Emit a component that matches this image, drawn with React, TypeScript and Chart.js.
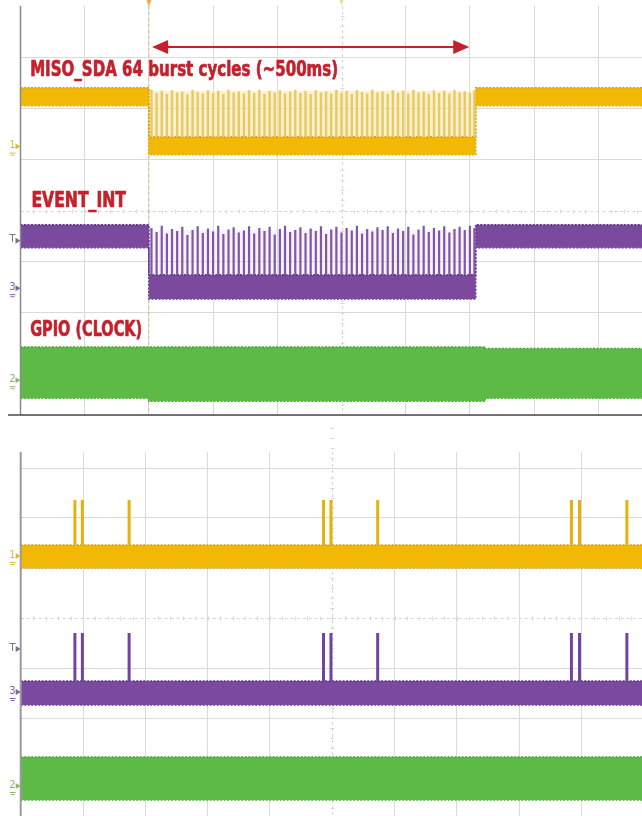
import React, { useEffect, useRef } from "react";
import { Chart, registerables } from "chart.js";

Chart.register(...registerables);

// Graticule: 10 horizontal divisions, vertical divisions counted up from the bottom line.
const GRID_X = [0, 1, 2, 3, 4, 5, 6, 7, 8, 9, 10];
const GRID_Y = [0, 1, 2, 3, 4, 5, 6, 7];

// ---- Upper screen: one 64-cycle MISO burst (~500 ms) ----
const burstStart = 2.0;
const burstEnd = 7.09;
const arrowSpan = [2.05, 6.99];
const arrowLevel = 7.2;

const misoEnvX = [0, 2.0, 2.0, 7.09, 7.09, 10];
const misoEnvHi = [6.4, 6.4, 5.44, 5.44, 6.4, 6.4];
const misoEnvLo = [6.05, 6.05, 5.09, 5.09, 6.05, 6.05];

const eventEnvX = [0, 2.0, 2.0, 7.09, 7.09, 10];
const eventEnvHi = [3.72, 3.72, 2.74, 2.74, 3.72, 3.72];
const eventEnvLo = [3.27, 3.27, 2.27, 2.27, 3.27, 3.27];

const gpioEnvX = [0, 2.0, 2.0, 7.24, 7.24, 10];
const gpioEnvHi = [1.33, 1.33, 1.33, 1.33, 1.3, 1.3];
const gpioEnvLo = [0.33, 0.33, 0.27, 0.27, 0.33, 0.33];

// Persistence glow between the burst cycles
const misoGlowTop = 6.34;
const eventGlowTop = 3.62;

// The 64 burst cycles
const burstCycleX = [
  2.04, 2.12, 2.2, 2.28, 2.36, 2.44, 2.52, 2.6,
  2.68, 2.76, 2.84, 2.92, 3.0, 3.08, 3.16, 3.24,
  3.32, 3.4, 3.48, 3.56, 3.64, 3.72, 3.8, 3.88,
  3.96, 4.04, 4.12, 4.2, 4.28, 4.36, 4.44, 4.52,
  4.6, 4.68, 4.76, 4.84, 4.92, 5.0, 5.08, 5.16,
  5.24, 5.32, 5.4, 5.48, 5.56, 5.64, 5.72, 5.8,
  5.88, 5.96, 6.04, 6.12, 6.2, 6.28, 6.36, 6.44,
  6.52, 6.6, 6.68, 6.76, 6.84, 6.92, 7.0, 7.07,
];
const misoCycleTop = [
  6.36, 6.3, 6.34, 6.28, 6.35, 6.31, 6.33, 6.27,
  6.36, 6.32, 6.29, 6.35, 6.3, 6.34, 6.28, 6.36,
  6.31, 6.33, 6.29, 6.35, 6.3, 6.36, 6.28, 6.34,
  6.31, 6.35, 6.29, 6.33, 6.36, 6.3, 6.34, 6.28,
  6.35, 6.31, 6.33, 6.29, 6.36, 6.3, 6.34, 6.28,
  6.35, 6.32, 6.29, 6.36, 6.31, 6.33, 6.28, 6.35,
  6.3, 6.34, 6.29, 6.36, 6.31, 6.33, 6.28, 6.35,
  6.3, 6.34, 6.29, 6.36, 6.31, 6.33, 6.3, 6.35,
];
const eventCycleTop = [
  3.66, 3.58, 3.7, 3.55, 3.64, 3.6, 3.68, 3.52,
  3.62, 3.69, 3.56, 3.65, 3.59, 3.7, 3.54, 3.63,
  3.67, 3.57, 3.61, 3.69, 3.55, 3.66, 3.6, 3.68,
  3.53, 3.64, 3.7, 3.58, 3.62, 3.67, 3.56, 3.65,
  3.6, 3.69, 3.54, 3.63, 3.68, 3.57, 3.66, 3.61,
  3.7, 3.55, 3.64, 3.59, 3.67, 3.62, 3.69, 3.56,
  3.65, 3.6, 3.68, 3.53, 3.63, 3.7, 3.58, 3.66,
  3.61, 3.69, 3.57, 3.64, 3.68, 3.62, 3.7, 3.66,
];

// ---- Lower screen: idle traffic with short pulse groups ----
const idlePulseX = [0.87, 0.99, 1.74, 4.86, 4.98, 5.73, 8.84, 8.97, 9.73];
const idleMisoTop = 6.36;
const idleEventTop = 3.7;

const idleEnvX = [0, 10];
const idleMisoHi = [5.46, 5.46];
const idleMisoLo = [5.0, 5.0];
const idleEventHi = [2.74, 2.74];
const idleEventLo = [2.26, 2.26];
const idleGpioHi = [1.22, 1.22];
const idleGpioLo = [0.36, 0.36];

// Channel reference markers (level in divisions)
const upperMarkers = [
  { text: "1", level: 5.25, color: "#d9bd3a" },
  { text: "T", level: 3.41, color: "#7d7088" },
  { text: "3", level: 2.48, color: "#8461a6" },
  { text: "2", level: 0.68, color: "#8fb86a" },
];
const lowerMarkers = [
  { text: "1", level: 5.24, color: "#d9bd3a" },
  { text: "T", level: 3.38, color: "#7d7088" },
  { text: "3", level: 2.52, color: "#8461a6" },
  { text: "2", level: 0.64, color: "#8fb86a" },
];

const upperLabels = [
  { text: "MISO_SDA 64 burst cycles (~500ms)", x: 0.15, y: 6.63, width: 308 },
  { text: "EVENT_INT", x: 0.17, y: 4.06, width: 94.5 },
  { text: "GPIO (CLOCK)", x: 0.15, y: 1.54, width: 112 },
];

const YELLOW = "#f2b806";
const YELLOW_EDGE = "#d9a000";
const PURPLE = "#7b4a9f";
const PURPLE_EDGE = "#61358a";
const GREEN = "#5dba47";
const GREEN_EDGE = "#49a336";
const LABEL_RED = "#c5202b";
const GRID = "#dadada";

type Pt = { x: number; y: number | null };

function band(xs: number[], hi: number[], lo: number[], fill: string, edge: string) {
  return [
    {
      data: xs.map((x, i) => ({ x, y: hi[i] })),
      borderColor: edge,
      borderWidth: 1.6,
      borderDash: [2, 1.5],
      backgroundColor: fill,
      fill: "+1",
      pointRadius: 0,
      order: 3,
    },
    {
      data: xs.map((x, i) => ({ x, y: lo[i] })),
      borderColor: edge,
      borderWidth: 1.6,
      borderDash: [2, 1.5],
      fill: false,
      pointRadius: 0,
      order: 3,
    },
  ];
}

function glow(x0: number, x1: number, top: number, base: number, color: string) {
  return [
    {
      data: [
        { x: x0, y: top },
        { x: x1, y: top },
      ],
      borderWidth: 0,
      backgroundColor: color,
      fill: "+1",
      pointRadius: 0,
      order: 4,
    },
    {
      data: [
        { x: x0, y: base },
        { x: x1, y: base },
      ],
      borderWidth: 0,
      fill: false,
      pointRadius: 0,
      order: 4,
    },
  ];
}

function pulses(xs: number[], base: number, tops: number[] | number, color: string, width: number) {
  const data: Pt[] = [];
  xs.forEach((x, i) => {
    const top = Array.isArray(tops) ? tops[i] : tops;
    data.push({ x, y: base }, { x, y: top }, { x, y: null });
  });
  return {
    data,
    borderColor: color,
    borderWidth: width,
    fill: false,
    pointRadius: 0,
    spanGaps: false,
    borderCapStyle: "butt",
    order: 1,
  };
}

type Overlay = {
  labels?: typeof upperLabels;
  markers: typeof upperMarkers;
  arrow?: boolean;
  trigger?: boolean;
  bottomRule?: boolean;
  leftRuleWidth: number;
  leftRuleColor: string;
};

function makeOverlay(cfg: Overlay) {
  return {
    id: "scopeOverlay",
    beforeDatasetsDraw(chart: any) {
      const { ctx, chartArea } = chart;
      const xs = chart.scales.x;
      const ys = chart.scales.y;
      ctx.save();
      // dashed centre lines with minor ticks
      ctx.strokeStyle = "#d4d4d4";
      ctx.lineWidth = 1;
      ctx.setLineDash([3, 3]);
      const cx = Math.round(xs.getPixelForValue(5)) + 0.5;
      const cy = Math.round(ys.getPixelForValue(4)) + 0.5;
      ctx.beginPath();
      ctx.moveTo(cx, chartArea.top);
      ctx.lineTo(cx, chartArea.bottom);
      ctx.moveTo(chartArea.left, cy);
      ctx.lineTo(chartArea.right, cy);
      ctx.stroke();
      ctx.setLineDash([]);
      ctx.strokeStyle = "#dadada";
      ctx.beginPath();
      for (let v = 0.2; v < 10; v += 0.2) {
        const px = Math.round(xs.getPixelForValue(v)) + 0.5;
        ctx.moveTo(px, cy - 2);
        ctx.lineTo(px, cy + 2);
      }
      for (let v = 0.2; v < 8; v += 0.2) {
        const py = Math.round(ys.getPixelForValue(v)) + 0.5;
        ctx.moveTo(cx - 2, py);
        ctx.lineTo(cx + 2, py);
      }
      ctx.stroke();

      if (cfg.trigger) {
        const tx = xs.getPixelForValue(burstStart);
        ctx.strokeStyle = "rgba(226,160,80,0.55)";
        ctx.setLineDash([3, 3]);
        ctx.lineWidth = 1.2;
        ctx.beginPath();
        ctx.moveTo(tx, 0);
        ctx.lineTo(tx, chartArea.bottom);
        ctx.stroke();
        ctx.setLineDash([]);
      }
      ctx.restore();
    },
    afterDraw(chart: any) {
      const { ctx, chartArea } = chart;
      const xs = chart.scales.x;
      const ys = chart.scales.y;
      ctx.save();

      // frame rules
      ctx.strokeStyle = cfg.leftRuleColor;
      ctx.lineWidth = cfg.leftRuleWidth;
      ctx.beginPath();
      ctx.moveTo(chartArea.left, chartArea.top);
      ctx.lineTo(chartArea.left, chartArea.bottom);
      ctx.stroke();
      if (cfg.bottomRule) {
        ctx.strokeStyle = "#4a4a4a";
        ctx.lineWidth = 1.5;
        ctx.beginPath();
        ctx.moveTo(8, chartArea.bottom);
        ctx.lineTo(chart.width, chartArea.bottom);
        ctx.stroke();
      }

      if (cfg.trigger) {
        const tx = xs.getPixelForValue(burstStart);
        ctx.fillStyle = "rgba(232,150,40,0.75)";
        ctx.beginPath();
        ctx.moveTo(tx - 2.5, 0);
        ctx.lineTo(tx + 2.5, 0);
        ctx.lineTo(tx, 7);
        ctx.closePath();
        ctx.fill();
        const mx = xs.getPixelForValue(5);
        ctx.fillStyle = "rgba(225,205,90,0.7)";
        ctx.beginPath();
        ctx.moveTo(mx - 2, 0);
        ctx.lineTo(mx + 2, 0);
        ctx.lineTo(mx, 5);
        ctx.closePath();
        ctx.fill();
      }

      // channel markers at the left edge
      ctx.font = '10px "DejaVu Sans", sans-serif';
      ctx.textBaseline = "middle";
      ctx.textAlign = "right";
      cfg.markers.forEach((m) => {
        const py = ys.getPixelForValue(m.level);
        const lx = chartArea.left;
        ctx.fillStyle = m.color;
        ctx.fillText(m.text, lx - 5, py - 1);
        ctx.beginPath();
        ctx.moveTo(lx - 5, py - 3);
        ctx.lineTo(lx, py);
        ctx.lineTo(lx - 5, py + 3);
        ctx.closePath();
        ctx.fill();
        if (m.text !== "T") {
          ctx.strokeStyle = m.color;
          ctx.lineWidth = 1;
          ctx.beginPath();
          ctx.moveTo(lx - 11, py + 6.5);
          ctx.lineTo(lx - 5, py + 6.5);
          ctx.moveTo(lx - 10, py + 8.5);
          ctx.lineTo(lx - 6, py + 8.5);
          ctx.stroke();
        }
      });

      // span arrow over the burst
      if (cfg.arrow) {
        const x0 = xs.getPixelForValue(arrowSpan[0]);
        const x1 = xs.getPixelForValue(arrowSpan[1]);
        const ay = ys.getPixelForValue(arrowLevel);
        ctx.strokeStyle = LABEL_RED;
        ctx.fillStyle = LABEL_RED;
        ctx.lineWidth = 2;
        ctx.beginPath();
        ctx.moveTo(x0 + 12, ay);
        ctx.lineTo(x1 - 12, ay);
        ctx.stroke();
        ctx.beginPath();
        ctx.moveTo(x0, ay);
        ctx.lineTo(x0 + 16, ay - 7);
        ctx.lineTo(x0 + 16, ay + 7);
        ctx.closePath();
        ctx.fill();
        ctx.beginPath();
        ctx.moveTo(x1, ay);
        ctx.lineTo(x1 - 16, ay - 7);
        ctx.lineTo(x1 - 16, ay + 7);
        ctx.closePath();
        ctx.fill();
      }

      // trace captions
      if (cfg.labels) {
        ctx.textAlign = "left";
        ctx.textBaseline = "alphabetic";
        ctx.fillStyle = LABEL_RED;
        ctx.strokeStyle = LABEL_RED;
        ctx.lineWidth = 0.7;
        ctx.lineJoin = "round";
        ctx.font = 'bold 22px "Liberation Sans Narrow", "DejaVu Sans Condensed", "Roboto", sans-serif';
        cfg.labels.forEach((l) => {
          const w = ctx.measureText(l.text).width;
          ctx.save();
          ctx.translate(xs.getPixelForValue(l.x), ys.getPixelForValue(l.y));
          ctx.scale(l.width / w, 1);
          ctx.fillText(l.text, 0, 0);
          ctx.strokeText(l.text, 0, 0);
          ctx.restore();
        });
      }
      ctx.restore();
    },
  };
}

type ScreenProps = {
  width: number;
  height: number;
  padding: { left: number; right: number; top: number; bottom: number };
  yMax: number;
  datasets: any[];
  overlay: Overlay;
};

function ScopeScreen({ width, height, padding, yMax, datasets, overlay }: ScreenProps) {
  const ref = useRef<HTMLCanvasElement>(null);
  useEffect(() => {
    if (!ref.current) return;
    const chart = new Chart(ref.current, {
      type: "line",
      data: { datasets },
      options: {
        animation: false,
        responsive: false,
        maintainAspectRatio: false,
        devicePixelRatio: 1,
        events: [],
        layout: { padding },
        elements: { point: { radius: 0 }, line: { tension: 0 } },
        plugins: { legend: { display: false }, tooltip: { enabled: false } },
        scales: {
          x: {
            type: "linear",
            min: 0,
            max: 10,
            afterBuildTicks: (s: any) => {
              s.ticks = GRID_X.map((v) => ({ value: v }));
            },
            ticks: { display: false },
            grid: {
              drawTicks: false,
              lineWidth: 1,
              color: (c: any) => (c.tick && (c.tick.value === 5 || c.tick.value === 0) ? "rgba(0,0,0,0)" : GRID),
            },
            border: { display: false },
          },
          y: {
            type: "linear",
            min: 0,
            max: yMax,
            afterBuildTicks: (s: any) => {
              s.ticks = GRID_Y.map((v) => ({ value: v }));
            },
            ticks: { display: false },
            grid: {
              drawTicks: false,
              lineWidth: 1,
              color: (c: any) => (c.tick && c.tick.value === 4 ? "rgba(0,0,0,0)" : GRID),
            },
            border: { display: false },
          },
        },
      } as any,
      plugins: [makeOverlay(overlay)],
    });
    return () => chart.destroy();
  }, []);
  return <canvas ref={ref} width={width} height={height} style={{ display: "block", width, height }} />;
}

export default function App() {
  const upperSets = [
    pulses(burstCycleX, misoEnvHi[2], misoCycleTop, "#e9c964", 2.4),
    pulses(burstCycleX, eventEnvHi[2], eventCycleTop, "#8056a8", 2.2),
    ...band(misoEnvX, misoEnvHi, misoEnvLo, YELLOW, YELLOW_EDGE),
    ...band(eventEnvX, eventEnvHi, eventEnvLo, PURPLE, PURPLE_EDGE),
    ...band(gpioEnvX, gpioEnvHi, gpioEnvLo, GREEN, GREEN_EDGE),
    ...glow(burstStart, burstEnd, misoGlowTop, misoEnvHi[2], "rgba(250,232,170,0.55)"),
    ...glow(burstStart, burstEnd, eventGlowTop, eventEnvHi[2], "rgba(230,215,242,0.3)"),
  ];
  const lowerSets = [
    pulses(idlePulseX, idleMisoHi[0], idleMisoTop, "#e8b00a", 3),
    pulses(idlePulseX, idleEventHi[0], idleEventTop, "#7243a0", 3),
    ...band(idleEnvX, idleMisoHi, idleMisoLo, YELLOW, YELLOW_EDGE),
    ...band(idleEnvX, idleEventHi, idleEventLo, PURPLE, PURPLE_EDGE),
    ...band(idleEnvX, idleGpioHi, idleGpioLo, GREEN, GREEN_EDGE),
  ];

  return (
    <div
      style={{
        position: "absolute",
        left: 0,
        top: 0,
        width: 642,
        height: 816,
        overflow: "hidden",
        background: "#ffffff",
      }}
    >
      <div style={{ position: "absolute", left: 0, top: 0 }}>
        <ScopeScreen
          width={664}
          height={420}
          padding={{ left: 20.5, right: 1.5, top: 6, bottom: 5 }}
          yMax={8}
          datasets={upperSets}
          overlay={{
            labels: upperLabels,
            markers: upperMarkers,
            arrow: true,
            trigger: true,
            bottomRule: true,
            leftRuleWidth: 1.5,
            leftRuleColor: "#8a8a8a",
          }}
        />
      </div>
      <div style={{ position: "absolute", left: 0, top: 420 }}>
        <ScopeScreen
          width={646}
          height={400}
          padding={{ left: 20.7, right: 2.3, top: 32, bottom: 2 }}
          yMax={7.32}
          datasets={lowerSets}
          overlay={{
            markers: lowerMarkers,
            leftRuleWidth: 2,
            leftRuleColor: "#9a9a9a",
          }}
        />
      </div>
    </div>
  );
}
